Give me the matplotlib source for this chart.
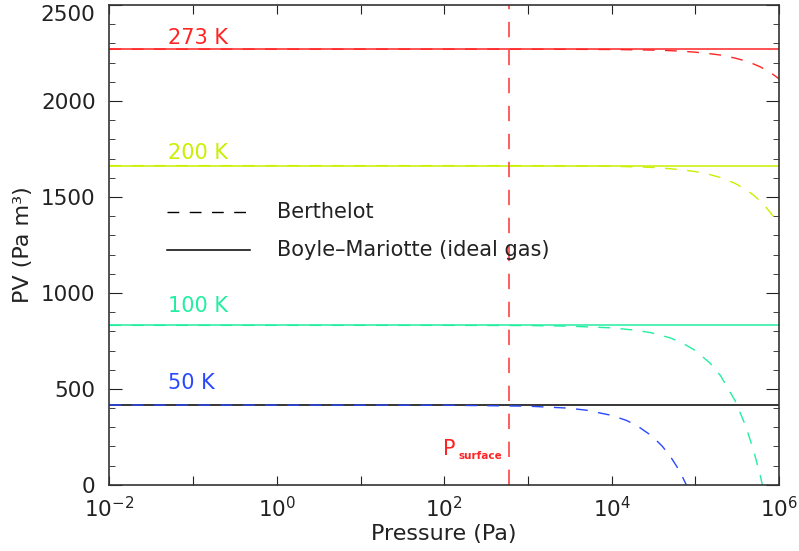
import matplotlib
matplotlib.use("Agg")
import matplotlib.pyplot as plt
from matplotlib.ticker import MultipleLocator, LogLocator, NullLocator, FuncFormatter
import numpy as np

plt.rcParams['font.family'] = ['DejaVu Sans']
plt.rcParams['mathtext.fontset'] = 'dejavusans'

# isotherms: temperature labels, colours, ideal-gas PV (Pa m3)
temps = ["273 K", "200 K", "100 K", "50 K"]
colors = ["#ff2424", "#c8f000", "#22eea0", "#2848ff"]
ideal_pv = [2270, 1663, 831, 416]
ideal_colors = ["#ff2424", "#c8f000", "#22eea0", "#000000"]

# Berthelot curves
p_273 = [1e-2, 1e2, 1e3, 1e4, 3e4, 5e4, 7e4, 1e5, 1.5e5, 2e5, 3e5, 4e5, 5e5, 6e5, 7e5, 8e5, 9e5, 1e6]
pv_273 = [2270, 2270, 2270, 2268, 2265, 2262, 2259, 2254, 2246, 2239, 2223, 2208, 2192, 2177, 2161, 2146, 2130, 2115]
p_200 = [1e-2, 1e2, 1e3, 1e4, 3e4, 5e4, 7e4, 1e5, 1.5e5, 2e5, 3e5, 4e5, 5e5, 6e5, 7e5, 8e5, 9e5, 1e6]
pv_200 = [1663, 1663, 1663, 1660, 1654, 1647, 1641, 1632, 1616, 1601, 1570, 1539, 1508, 1477, 1446, 1415, 1386, 1362]
p_100 = [1e-2, 1e2, 1e3, 3e3, 1e4, 2e4, 3e4, 5e4, 7e4, 1e5, 1.5e5, 2e5, 3e5, 4e5, 5e5, 6e5, 7e5]
pv_100 = [831, 831, 830, 827, 818, 805, 792, 766, 739, 700, 634, 569, 437, 306, 175, 44, -88]
p_50 = [1e-2, 1e2, 1e3, 3e3, 5e3, 1e4, 1.5e4, 2e4, 3e4, 4e4, 5e4, 6e4, 7e4, 8e4]
pv_50 = [416, 415, 410, 400, 389, 362, 336, 309, 256, 203, 150, 96, 43, -10]

berthelot = [(p_273, pv_273), (p_200, pv_200), (p_100, pv_100), (p_50, pv_50)]
label_pos = [(0.05, 2328), (0.05, 1729), (0.05, 932), (0.05, 531)]

p_surface = 600
y_top = 2500

fig = plt.figure(figsize=(7.99, 5.51), dpi=100)
ax = fig.add_axes([0.137, 0.12, 0.838, 0.871])

dash = (8.5, 7.5)
for i in range(4):
    ax.axhline(ideal_pv[i], color=ideal_colors[i], lw=1.1)
    p, pv = berthelot[i]
    ax.plot(p, pv, color=colors[i], lw=1.0, dashes=dash)
    ax.text(label_pos[i][0], label_pos[i][1], temps[i], color=colors[i],
            fontsize=15, va='center', ha='left')

ax.axvline(p_surface, color="#ff5050", lw=1.3, dashes=(8.5, 7.0))
ax.text(97, 187, "P", color="#ff2424", fontsize=15, ha='left', va='center')
ax.text(150, 152, "surface", color="#ff2424", fontsize=7.5, ha='left', va='center',
        fontweight='bold')

# legend drawn by hand
ax.plot([0.086, 0.21], [0.569, 0.569], transform=ax.transAxes, color='k', lw=1.0, dashes=dash)
ax.plot([0.086, 0.21], [0.49, 0.49], transform=ax.transAxes, color='k', lw=1.1)
ax.text(0.25, 0.569, "Berthelot", transform=ax.transAxes, fontsize=15, va='center', color='#222222')
ax.text(0.25, 0.49, "Boyle\u2013Mariotte (ideal gas)", transform=ax.transAxes, fontsize=15,
        va='center', color='#222222')

ax.set_xscale('log')
ax.set_xlim(1e-2, 1e6)
ax.set_ylim(0, y_top)
ax.xaxis.set_major_locator(LogLocator(base=10, numticks=20))
ax.xaxis.set_minor_locator(NullLocator())


def even_decades(x, pos):
    e = int(round(np.log10(x)))
    if e % 2:
        return ""
    return r"$\mathdefault{10^{%d}}$" % e


def y_fmt(y, pos):
    # top label is drawn separately so it is not cut at the edge
    if y >= y_top:
        return ""
    return "%d" % y


ax.xaxis.set_major_formatter(FuncFormatter(even_decades))
ax.yaxis.set_major_locator(MultipleLocator(500))
ax.yaxis.set_minor_locator(MultipleLocator(100))
ax.yaxis.set_major_formatter(FuncFormatter(y_fmt))

ax.tick_params(axis='both', which='both', direction='in', top=True, right=True,
               labelsize=15.5, colors='#222222')
ax.tick_params(axis='x', which='major', length=6.5, pad=8)
ax.tick_params(axis='y', which='major', length=9.5, pad=10)
ax.tick_params(axis='y', which='minor', length=4.5)
for s in ax.spines.values():
    s.set_linewidth(1.2)
    s.set_color('#333333')

ax.text(-0.021, y_top, "%d" % y_top, transform=ax.get_yaxis_transform(),
        ha='right', va='top', fontsize=15.5, color='#222222')

ax.set_xlabel("Pressure (Pa)", fontsize=16, color='#222222', labelpad=2)
ax.set_ylabel("PV (Pa m\u00b3)", fontsize=16, color='#222222', labelpad=6)

fig.savefig("out.png", dpi=100)
